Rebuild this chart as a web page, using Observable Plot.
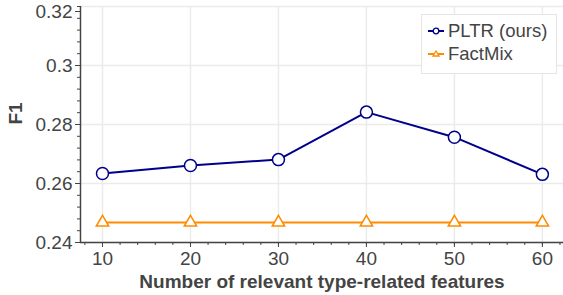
<!DOCTYPE html>
<html><head><meta charset="utf-8">
<script src="https://cdn.jsdelivr.net/npm/d3@7"></script>
<script src="https://cdn.jsdelivr.net/npm/@observablehq/plot@0.6"></script>
<style>
body{margin:0;background:#fff;}
#wrap{position:relative;width:563px;height:295px;font-family:"Liberation Sans",Arial,sans-serif;}
#legend{position:absolute;left:421px;top:14px;width:136px;height:60px;border:1px solid #e6e6e6;background:#fff;box-sizing:border-box;}
.row{position:absolute;left:6px;height:22px;display:flex;align-items:center;font-size:18.5px;color:#444;white-space:nowrap;}
.row svg{margin-right:4px;}
</style>
</head><body><div id="wrap"></div>
<script>
const features = [10, 20, 30, 40, 50, 60];
const pltrF1 = [0.2634, 0.2661, 0.2681, 0.2842, 0.2757, 0.2631];
const factmixF1 = [0.2468, 0.2468, 0.2468, 0.2468, 0.2468, 0.2468];
const seriesNames = ["PLTR (ours)", "FactMix"];
const seriesColors = ["#00008b", "#ff8c00"];
const xTicks = [10, 20, 30, 40, 50, 60];
const xMinorTicks = d3.range(8, 63, 2);
const yTicks = [0.24, 0.26, 0.28, 0.3, 0.32];
const yTickLabels = ["0.24", "0.26", "0.28", "0.3", "0.32"];
const yMinorTicks = d3.range(0, 21).map(i => 0.24 + i * 0.004);
const xLabel = "Number of relevant type-related features";
const yLabel = "F1";

const pltr = features.map((f, i) => ({x: f, y: pltrF1[i]}));
const factmix = features.map((f, i) => ({x: f, y: factmixF1[i]}));
const fmtY = d => yTickLabels[yTicks.findIndex(t => Math.abs(t - d) < 1e-9)];

const axisColor = "#444";
const fs = 19;
const chart = Plot.plot({
  width: 563, height: 295,
  marginLeft: 80, marginRight: 0, marginTop: 6, marginBottom: 53,
  style: {fontFamily: '"Liberation Sans", Arial, sans-serif', fontSize: fs + "px", color: axisColor, background: "#fff", overflow: "visible"},
  x: {domain: [7.5, 62.4]},
  y: {domain: [0.24, 0.32]},
  marks: [
    Plot.gridX(xTicks, {stroke: "#ebebeb", strokeOpacity: 1, strokeWidth: 1.5}),
    Plot.gridY(yTicks, {stroke: "#ebebeb", strokeOpacity: 1, strokeWidth: 1.5}),
    Plot.axisX(xMinorTicks, {tickSize: 3, text: null, stroke: axisColor, label: null}),
    Plot.axisX(xTicks, {tickSize: 5, tickPadding: 4, stroke: axisColor, fill: axisColor, fontSize: fs, label: null}),
    Plot.axisY(yMinorTicks, {tickSize: 3, text: null, stroke: axisColor, label: null}),
    Plot.axisY(yTicks.slice(0, 4), {tickSize: 5, tickPadding: 3, stroke: axisColor, fill: axisColor, fontSize: fs, label: null, tickFormat: fmtY}),
    Plot.axisY(yTicks.slice(4), {tickSize: 5, tickPadding: 3, stroke: axisColor, fill: axisColor, fontSize: fs, label: null, tickFormat: fmtY, dy: 5}),
    Plot.ruleX([7.5], {stroke: axisColor, strokeWidth: 1.5}),
    Plot.ruleY([0.24], {stroke: axisColor, strokeWidth: 1.5}),
    Plot.line(factmix, {x: "x", y: "y", stroke: seriesColors[1], strokeWidth: 2}),
    Plot.dot(factmix, {x: "x", y: "y", symbol: "triangle", r: 4.6, stroke: seriesColors[1], fill: "white", strokeWidth: 1.5}),
    Plot.line(pltr, {x: "x", y: "y", stroke: seriesColors[0], strokeWidth: 2}),
    Plot.dot(pltr, {x: "x", y: "y", symbol: "circle", r: 6, stroke: seriesColors[0], fill: "white", strokeWidth: 1.5}),
    Plot.text([xLabel], {frameAnchor: "bottom", dy: 45, fontWeight: "bold", fontSize: fs, fill: axisColor}),
    Plot.text([yLabel], {frameAnchor: "left", dx: -65, rotate: -90, fontWeight: "bold", fontSize: fs, fill: axisColor})
  ]
});
const wrap = document.getElementById("wrap");
wrap.appendChild(chart);

const legend = document.createElement("div");
legend.id = "legend";
const symbols = [
  '<circle cx="8" cy="5" r="2.8" fill="white" stroke="COLOR" stroke-width="1.3"/>',
  '<path d="M8,2 L11,7 L5,7 Z" fill="white" stroke="COLOR" stroke-width="1.3"/>'
];
seriesNames.forEach((name, i) => {
  const row = document.createElement("div");
  row.className = "row";
  row.style.top = (5 + i * 23) + "px";
  row.innerHTML = `<svg width="16" height="10"><line x1="0" y1="5" x2="16" y2="5" stroke="${seriesColors[i]}" stroke-width="2"/>${symbols[i].replace("COLOR", seriesColors[i])}</svg><span>${name}</span>`;
  legend.appendChild(row);
});
wrap.appendChild(legend);
</script>
</body></html>
